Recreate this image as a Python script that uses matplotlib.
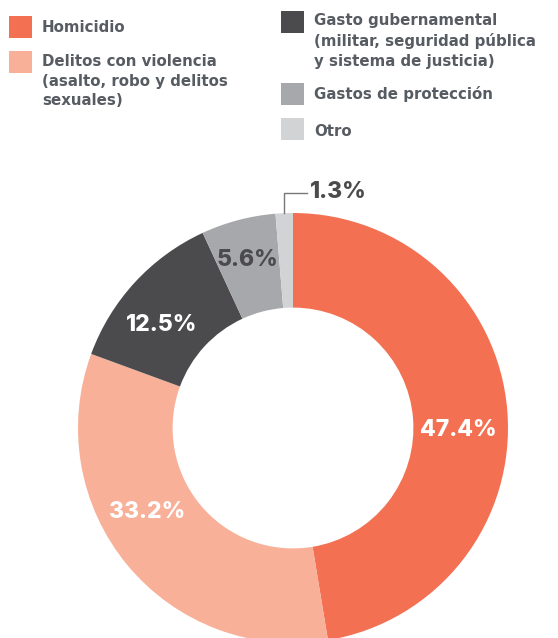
import numpy as np
import matplotlib.pyplot as plt
from matplotlib.patches import Rectangle

categories = ["Homicidio",
              "Delitos con violencia\n(asalto, robo y delitos\nsexuales)",
              "Gasto gubernamental\n(militar, seguridad pública\ny sistema de justicia)",
              "Gastos de protección",
              "Otro"]
values = [47.4, 33.2, 12.5, 5.6, 1.3]
labels = ["47.4%", "33.2%", "12.5%", "5.6%", "1.3%"]
colors = ["#F37052", "#F8B098", "#4B4B4D", "#A7A8AB", "#D1D3D5"]

TEXT = "#575C63"
LEG_FONT = ['DejaVu Sans']
PCT_FONT = ['Inter', 'DejaVu Sans']

W, H = 558, 638
fig = plt.figure(figsize=(W / 100, H / 100), dpi=100)

# donut, centre (293, 428) px, radius 215 px
cx, cy, r = 293, 428, 215
ax = fig.add_axes([(cx - r) / W, (H - cy - r) / H, 2 * r / W, 2 * r / H])
wedges, _ = ax.pie(values, colors=colors, startangle=90, counterclock=False,
                   radius=1, wedgeprops=dict(width=0.44, linewidth=0))
ax.set_xlim(-1, 1)
ax.set_ylim(-1, 1)
ax.set_aspect('equal')
ax.axis('off')
for w in wedges:
    w.set_clip_on(False)

label_pos = [(0.77, -0.01), (-0.68, -0.39), (-0.61, 0.48), (-0.21, 0.78)]
label_col = ["white", "white", "white", "#4B4B4D"]
for (x, y), t, c in zip(label_pos, labels[:4], label_col):
    ax.text(x, y, t, ha='center', va='center', fontsize=16.5, fontweight='heavy',
            color=c, family=PCT_FONT)

# leader for the small slice
w = wedges[4]
mid = np.deg2rad((w.theta1 + w.theta2) / 2)
lx = np.cos(mid)
ax.plot([lx, lx, 0.065], [1.0, 1.093, 1.093], color="#777777", lw=1, clip_on=False)
ax.text(0.08, 1.098, labels[4], ha='left', va='center', fontsize=16.5,
        fontweight='heavy', color="#4B4B4D", family=PCT_FONT)

# legend drawn in pixel coordinates: (square x, square top, text top, index)
def px(x, y):
    return x / W, 1 - y / H

leg = [(9, 16, 20.5, 0), (9, 51, 54.5, 1), (281, 11, 13.5, 2),
       (281, 83, 86.5, 3), (281, 118, 123.5, 4)]
for x, y, ty, i in leg:
    fx, fy = px(x, y + 22)
    fig.patches.append(Rectangle((fx, fy), 23 / W, 22 / H, transform=fig.transFigure,
                                 facecolor=colors[i], edgecolor='none'))
    tx, tyf = px(x + 33, ty)
    fig.text(tx, tyf, categories[i], ha='left', va='top', fontsize=10.8,
             fontweight='bold', color=TEXT, linespacing=1.37, family=LEG_FONT)

fig.savefig("out.png", dpi=100, facecolor='white')
